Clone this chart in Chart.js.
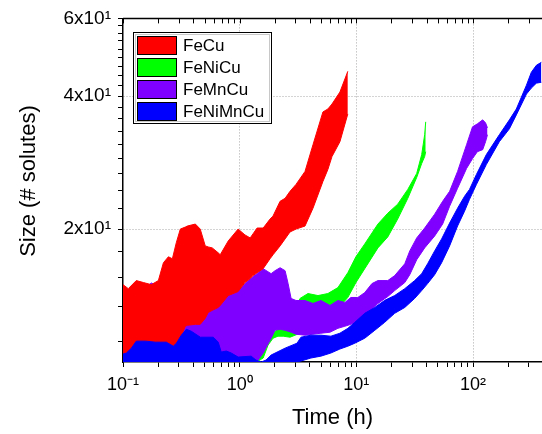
<!DOCTYPE html>
<html>
<head>
<meta charset="utf-8">
<script src="https://cdn.jsdelivr.net/npm/chart.js@4.4.1/dist/chart.umd.min.js"></script>
<style>
  html, body { margin: 0; padding: 0; background: #fff; }
  canvas { display: block; }
</style>
</head>
<body>
<canvas id="chart" width="542" height="434"></canvas>
<script>
// series names and colours, in legend order
var seriesNames = ['FeCu', 'FeNiCu', 'FeMnCu', 'FeNiMnCu'];
var seriesColors = ['#ff0000', '#00ff00', '#8000ff', '#0000ff'];

// tick labels
var xMajorTicks = [0.1, 1, 10, 100];
var xTickLabels = ['10\u207B\u00B9', '10\u2070', '10\u00B9', '10\u00B2'];
var yMajorTicks = [20, 40, 60];
var yTickLabels = ['2x10\u00B9', '4x10\u00B9', '6x10\u00B9'];

// FeCu band (time in h, size in # solutes)
var feCuTime  = [0.1, 0.111, 0.13, 0.15, 0.175, 0.201, 0.222, 0.245, 0.265, 0.286, 0.31, 0.342, 0.356, 0.417, 0.459, 0.507, 0.538, 0.582, 0.655, 0.681, 0.798, 0.97, 1.11, 1.23, 1.3, 1.41, 1.59, 1.82, 1.93, 2.22, 2.45, 2.7, 3.04, 3.63, 4.25, 5.17, 5.7, 6.18, 7.23, 8.45];
var feCuUpper = [14.97, 14.66, 15.29, 15.13, 14.97, 15.29, 16.78, 17.31, 17.13, 18.61, 20.0, 20.21, 20.32, 20.53, 20.0, 18.32, 18.22, 18.13, 17.67, 17.49, 18.8, 20.0, 19.4, 19.1, 19.5, 20.11, 20.11, 21.07, 21.4, 23.12, 23.48, 24.35, 25.25, 27.01, 31.05, 36.84, 37.41, 38.39, 40.86, 45.53];
var feCuLower = [10.21, 10.21, 10.26, 10.26, 10.31, 10.37, 10.42, 10.53, 10.7, 10.92, 11.32, 12.05, 12.11, 12.17, 12.17, 12.56, 12.95, 13.09, 13.29, 13.43, 14.14, 14.44, 15.13, 15.45, 15.69, 15.93, 16.27, 17.13, 17.49, 18.32, 19.0, 19.7, 20.0, 20.32, 22.3, 25.64, 27.29, 29.19, 31.54, 36.46];

// FeNiCu band
var feNiCuTime  = [1.44, 1.59, 1.75, 1.93, 2.13, 2.36, 2.7, 3.29, 3.85, 4.69, 5.7, 6.95, 8.45, 9.91, 11.8, 15.3, 18.6, 22.6, 27.6, 32.9, 36.3, 38.5, 39.3];
var feNiCuUpper = [10.21, 10.59, 11.21, 11.62, 11.86, 11.98, 12.56, 13.93, 14.29, 14.14, 14.29, 14.74, 15.93, 17.31, 18.51, 20.53, 21.73, 22.77, 24.6, 26.73, 29.49, 32.71, 34.99];
var feNiCuLower = [10.05, 10.21, 10.92, 11.32, 11.44, 11.44, 11.38, 11.62, 11.8, 12.11, 12.56, 13.22, 14.0, 15.13, 16.27, 18.13, 19.2, 21.07, 23.48, 26.18, 28.15, 29.19, 29.95];

// FeMnCu band
var feMnCuTime  = [0.1, 0.13, 0.175, 0.201, 0.255, 0.342, 0.459, 0.681, 0.97, 1.18, 1.44, 1.59, 1.86, 2.01, 2.22, 2.45, 2.6, 2.76, 3.04, 3.63, 4.25, 4.97, 5.94, 6.95, 7.97, 8.97, 10.3, 11.8, 13.6, 15.3, 18.6, 21.3, 26.0, 28.7, 32.9, 38.5, 46.9, 54.9, 63.0, 73.7, 88.0, 99, 109, 121, 128, 133];
var feMnCuUpper = [13.6, 14.1, 15.1, 14.8, 14.2, 13.78, 13.64, 13.93, 14.51, 15.29, 15.93, 16.27, 15.85, 16.1, 16.35, 16.1, 15.05, 13.93, 13.78, 13.78, 13.57, 13.78, 13.43, 13.78, 13.64, 14.0, 14.0, 14.36, 15.05, 15.29, 15.29, 15.69, 16.69, 17.85, 19.1, 20.11, 21.62, 23.12, 24.35, 27.01, 31.05, 34.09, 34.62, 35.35, 34.8, 33.91];
var feMnCuLower = [10.21, 10.21, 10.21, 10.21, 10.21, 10.21, 10.21, 10.16, 10.1, 10.1, 10.1, 10.48, 11.32, 11.8, 11.86, 11.8, 11.74, 11.68, 11.56, 11.5, 11.56, 11.62, 11.68, 11.92, 12.05, 12.17, 12.36, 12.62, 13.15, 13.57, 14.07, 14.51, 15.13, 15.77, 17.04, 18.13, 19.29, 20.53, 22.53, 24.74, 27.43, 28.88, 29.95, 30.26, 31.54, 32.71];

// FeNiMnCu band (lower edge runs below the axis at early times)
var feNiMnCuTime  = [0.1, 0.107, 0.118, 0.13, 0.156, 0.19, 0.235, 0.27, 0.287, 0.316, 0.349, 0.385, 0.46, 0.594, 0.655, 0.695, 0.767, 0.846, 0.971, 1.254, 1.38, 1.53, 1.68, 1.86, 2.45, 3.1, 3.35, 4.08, 4.97, 6.05, 7.23, 8.46, 9.71, 11.8, 14.4, 17.5, 21.3, 26.0, 31.6, 36.3, 40.8, 46.9, 53.8, 63.0, 73.7, 84.6, 93.3, 107, 130, 168, 205, 235, 287, 316, 349, 385];
var feNiMnCuUpper = [10.42, 10.48, 10.75, 11.15, 11.15, 11.09, 11.09, 10.86, 11.03, 11.5, 11.86, 11.74, 11.38, 11.38, 11.09, 10.53, 10.59, 10.48, 10.26, 10.31, 10.1, 10.0, 10.1, 10.37, 10.75, 11.03, 11.38, 11.5, 11.5, 11.44, 11.62, 11.92, 12.3, 12.89, 13.29, 13.79, 14.14, 14.66, 15.29, 15.85, 16.69, 17.85, 19.0, 20.64, 22.3, 23.73, 24.6, 26.6, 29.49, 32.71, 35.35, 37.41, 42.36, 45.3, 46.98, 47.72];
var feNiMnCuLower = [9.5, 9.5, 9.5, 9.5, 9.5, 9.5, 9.5, 9.5, 9.5, 9.5, 9.5, 9.5, 9.5, 9.5, 9.5, 9.5, 9.5, 9.5, 9.5, 9.5, 9.5, 9.5, 9.5, 9.5, 9.5, 10.0, 10.05, 10.21, 10.31, 10.48, 10.7, 10.86, 11.03, 11.32, 11.8, 12.3, 12.89, 13.29, 13.93, 14.51, 15.05, 15.77, 16.78, 18.32, 20.32, 21.96, 23.36, 25.25, 28.0, 31.54, 33.74, 36.27, 40.44, 41.72, 42.81, 43.0];

var FONT = '"Liberation Sans", Arial, sans-serif';

function points(time, vals) {
    return time.map(function (t, i) { return { x: t, y: vals[i] }; });
}

// a band = lower line + upper line filled down to it
function band(label, time, lower, upper, color, order) {
    return [{
        label: label + ' lower',
        data: points(time, lower),
        borderColor: color,
        borderWidth: 1,
        pointRadius: 0,
        fill: false,
        order: order
    }, {
        label: label,
        data: points(time, upper),
        borderColor: color,
        backgroundColor: color,
        borderWidth: 1,
        pointRadius: 0,
        fill: '-1',
        order: order
    }];
}

function near(a, b) { return Math.abs(a - b) < 1e-6 * Math.max(1, b); }

// lower order is drawn on top: blue over red over purple over green
var datasets = []
    .concat(band(seriesNames[0], feCuTime, feCuLower, feCuUpper, seriesColors[0], 2))
    .concat(band(seriesNames[1], feNiCuTime, feNiCuLower, feNiCuUpper, seriesColors[1], 4))
    .concat(band(seriesNames[2], feMnCuTime, feMnCuLower, feMnCuUpper, seriesColors[2], 3))
    .concat(band(seriesNames[3], feNiMnCuTime, feNiMnCuLower, feNiMnCuUpper, seriesColors[3], 1));

// top frame line with inward ticks
var frameTop = {
    id: 'frameTop',
    afterDraw: function (chart) {
        var ctx = chart.ctx, a = chart.chartArea, x = chart.scales.x;
        ctx.save();
        ctx.strokeStyle = '#000';
        ctx.lineWidth = 1.5;
        ctx.beginPath();
        ctx.moveTo(a.left, a.top);
        ctx.lineTo(a.right, a.top);
        ctx.stroke();
        ctx.lineWidth = 1;
        ctx.beginPath();
        x.ticks.forEach(function (t) {
            var px = Math.round(x.getPixelForValue(t.value)) + 0.5;
            ctx.moveTo(px, a.top);
            ctx.lineTo(px, a.top + 5);
        });
        ctx.stroke();
        ctx.restore();
    }
};

// legend box inside the plot
var legendBox = {
    id: 'legendBox',
    afterDraw: function (chart) {
        var ctx = chart.ctx;
        ctx.save();
        ctx.fillStyle = '#fff';
        ctx.fillRect(133.5, 32.5, 138, 91);
        ctx.strokeStyle = '#000';
        ctx.lineWidth = 1;
        ctx.strokeRect(133.5, 32.5, 138, 91);
        ctx.strokeStyle = '#c8c8c8';
        ctx.strokeRect(135.5, 34.5, 134, 87);
        ctx.font = '17px ' + FONT;
        ctx.textBaseline = 'middle';
        seriesNames.forEach(function (name, i) {
            var y = 36.5 + i * 22;
            ctx.fillStyle = seriesColors[i];
            ctx.fillRect(137.5, y, 39, 18);
            ctx.strokeStyle = '#000';
            ctx.strokeRect(137.5, y, 39, 18);
            ctx.fillStyle = '#000';
            ctx.fillText(name, 183, y + 10);
        });
        ctx.restore();
    }
};

new Chart(document.getElementById('chart'), {
    type: 'line',
    data: { datasets: datasets },
    options: {
        responsive: false,
        devicePixelRatio: 1,
        animation: false,
        layout: { padding: { top: 17, right: 0, left: 0, bottom: 0 } },
        plugins: {
            legend: { display: false },
            tooltip: { enabled: false }
        },
        scales: {
            x: {
                type: 'logarithmic',
                min: 0.1,
                max: 390,
                afterFit: function (scale) { scale.height = 72; },
                afterBuildTicks: function (scale) {
                    var t = [];
                    for (var d = -1; d <= 2; d++) {
                        for (var m = 1; m <= 9; m++) {
                            var v = m * Math.pow(10, d);
                            if (v <= scale.max) t.push({ value: v });
                        }
                    }
                    scale.ticks = t;
                },
                ticks: {
                    autoSkip: false,
                    maxRotation: 0,
                    padding: 7,
                    color: '#000',
                    font: { family: FONT, size: 18 },
                    callback: function (value) {
                        for (var i = 0; i < xMajorTicks.length; i++) {
                            if (near(value, xMajorTicks[i])) return xTickLabels[i];
                        }
                        return '';
                    }
                },
                grid: {
                    color: function (c) {
                        if (!c.tick) return 'transparent';
                        var v = c.tick.value;
                        return (near(v, 1) || near(v, 10) || near(v, 100)) ? '#a8a8a8' : 'transparent';
                    },
                    tickColor: '#000',
                    tickLength: 5,
                    tickBorderDash: [],
                    lineWidth: 1
                },
                border: { color: '#000', width: 1.5, dash: [1, 2] },
                title: {
                    display: true,
                    text: 'Time (h)',
                    color: '#000',
                    font: { family: FONT, size: 22 },
                    padding: { top: 0, bottom: 3 }
                }
            },
            y: {
                type: 'logarithmic',
                min: 10,
                max: 60,
                afterFit: function (scale) { scale.width = 123; },
                afterBuildTicks: function (scale) {
                    var t = [];
                    for (var k = 5; k <= 27; k++) t.push({ value: k * 20 / 9 });
                    scale.ticks = t;
                },
                ticks: {
                    autoSkip: false,
                    padding: 7,
                    color: '#000',
                    font: { family: FONT, size: 19 },
                    callback: function (value) {
                        for (var i = 0; i < yMajorTicks.length; i++) {
                            if (near(value, yMajorTicks[i])) return yTickLabels[i];
                        }
                        return '';
                    }
                },
                grid: {
                    color: function (c) {
                        if (!c.tick) return 'transparent';
                        var v = c.tick.value;
                        return (near(v, 20) || near(v, 40)) ? '#a8a8a8' : 'transparent';
                    },
                    tickColor: '#000',
                    tickLength: 5,
                    tickBorderDash: [],
                    lineWidth: 1
                },
                border: { color: '#000', width: 1.5, dash: [1, 2] },
                title: {
                    display: true,
                    text: '   Size (# solutes)',
                    color: '#000',
                    font: { family: FONT, size: 22 },
                    padding: { top: 16, bottom: 0 }
                }
            }
        }
    },
    plugins: [frameTop, legendBox]
});
</script>
</body>
</html>
